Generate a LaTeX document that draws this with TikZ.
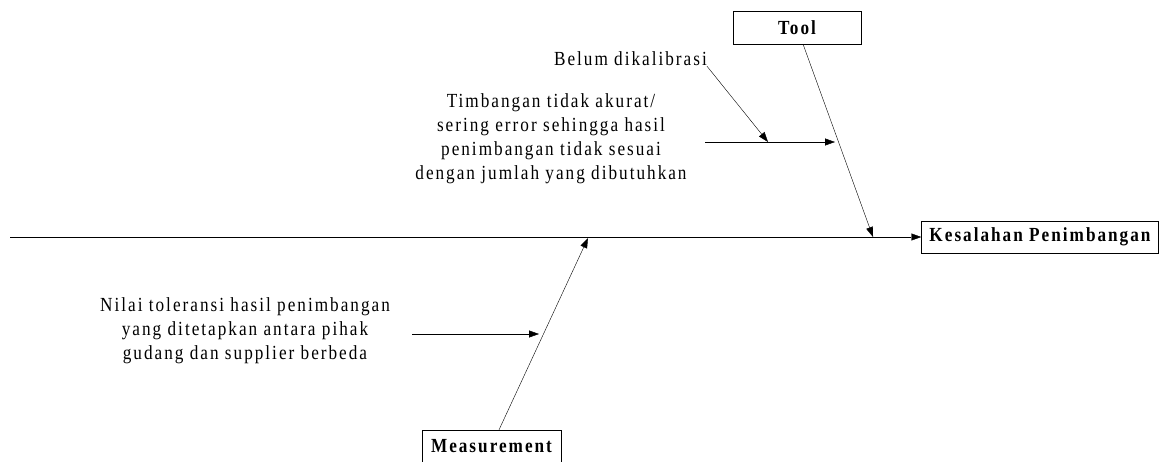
\documentclass[tikz,border=0pt]{standalone}
\usepackage{fontspec}
\setmainfont{Liberation Serif}[FakeStretch=0.86, LetterSpace=10]
\usetikzlibrary{arrows.meta, positioning}
\tikzset{
    >={Triangle[length=10pt,width=7pt]}, % filled arrow heads
    x=1pt, y=-1pt, % work in pixels of the page
    line width=0.8pt,
}

\begin{document}
\begin{tikzpicture}[
                                styleBox/.style={draw, font=\fontsize{20}{22}\selectfont\bfseries, inner sep=0pt},
                                styleCause/.style={align=center, font=\fontsize{20}{24}\selectfont, inner sep=0pt},
                            ]
                            \useasboundingbox (0,0) rectangle (1159,461);
                            % head and bones
                            \node[styleBox, minimum width=237pt, minimum height=32pt] (effect) at (1040,237) {Kesalahan Penimbangan};
                            \node[styleBox, minimum width=128pt, minimum height=33pt] (tool) at (797,27.5) {Tool};
                            \node[styleBox, minimum width=139pt, minimum height=32pt] (msr) at (491.5,446) {Measurement};
                            \coordinate (s0) at (10,237);
                            \coordinate (s1) at (873,237);
                            \coordinate (s2) at (588,238);
                            % causes
                            \node[styleCause, anchor=east] (c11) at (707,59) {Belum dikalibrasi};
                            \node[styleCause] (c12) at (551,139) {Timbangan tidak akurat/\\sering error sehingga hasil\\penimbangan tidak sesuai\\dengan jumlah yang dibutuhkan};
                            \node[styleCause] (c21) at (245,331) {Nilai toleransi hasil penimbangan\\yang ditetapkan antara pihak\\gudang dan supplier berbeda};
                            \coordinate (c12a) at (705,142);
                            \coordinate (c12b) at (835,142);
                            \coordinate (c11b) at (768,142);
                            \coordinate (c21a) at (412,334);
                            \coordinate (c21b) at (539,334);
                            \draw
                            (s0) edge[->] (effect)
                            (tool) edge[->] (s1)
                            (msr) edge[->] (s2)
                            (c11.south east) edge[->] (c11b)
                            (c12a) edge[->] (c12b)
                            (c21a) edge[->] (c21b);
                        \end{tikzpicture}
\end{document}
